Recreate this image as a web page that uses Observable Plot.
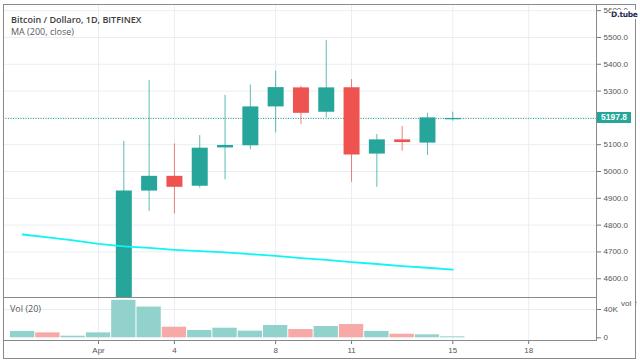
<!DOCTYPE html>
<html>
<head>
<meta charset="utf-8">
<script src="https://cdn.jsdelivr.net/npm/d3@7"></script>
<script src="https://cdn.jsdelivr.net/npm/@observablehq/plot@0.6"></script>
<style>
  html, body { margin: 0; padding: 0; background: #fff; }
  #wrap { position: relative; width: 640px; height: 360px; overflow: hidden; font-family: "Liberation Sans", Arial, sans-serif; }
  #outer { position: absolute; left: 3px; top: 4px; width: 633px; height: 355px; border: 1px solid #8a8a8a; box-sizing: border-box; pointer-events: none; }
  .abs { position: absolute; white-space: nowrap; }
  #title { left: 11px; top: 13px; font-family: "Open Sans", sans-serif; font-weight: 600; font-size: 9px; color: #3c3c3c; }
  #subtitle { left: 11px; top: 25px; font-family: "Open Sans", sans-serif; font-size: 9px; color: #5a5a5a; }
  #voltitle { left: 10px; top: 302px; font-family: "Open Sans", sans-serif; font-size: 9px; color: #5a5a5a; }
  #wm { left: 611px; top: 10px; font-family: "DejaVu Sans", sans-serif; font-weight: bold; font-size: 7.5px; color: #1d2b53; letter-spacing: -0.3px; background: #fff; }
  #tag { font-family: "Liberation Sans", sans-serif; font-weight: bold; font-size: 8.5px; color: #fff; text-align: center; line-height: 11px; height: 11px; width: 34px; }
  svg { position: absolute; left: 0; }
</style>
</head>
<body>
<div id="wrap"></div>
<script>
// ---- data ----
const dates = ["2019-03-29","2019-03-30","2019-03-31","2019-04-01","2019-04-02","2019-04-03","2019-04-04","2019-04-05","2019-04-06","2019-04-07","2019-04-08","2019-04-09","2019-04-10","2019-04-11","2019-04-12","2019-04-13","2019-04-14","2019-04-15"];
const open  = [4025, 4110, 4100, 4105, 4150, 4927, 4982, 4945, 5088, 5096, 5241, 5312, 5221, 5312, 5065, 5118, 5106, 5193];
const high  = [4120, 4125, 4115, 4160, 5112, 5340, 5103, 5134, 5284, 5323, 5374, 5318, 5489, 5343, 5138, 5168, 5217, 5221];
const low   = [4010, 4080, 4085, 4090, 4130, 4851, 4842, 4938, 4969, 5081, 5144, 5175, 5200, 4960, 4941, 5076, 5060, 5188];
const close = [4110, 4100, 4105, 4150, 4927, 4982, 4941, 5087, 5097, 5241, 5313, 5217, 5312, 5062, 5118, 5108, 5200, 5197.8];
const ma200 = [4765, 4754, 4743, 4730, 4721, 4715, 4708, 4703, 4698, 4692, 4685, 4677, 4670, 4662, 4655, 4647, 4641, 4634];
const volume = [9000, 7000, 2300, 7000, 53000, 43500, 15000, 10300, 13600, 9400, 17400, 11700, 16000, 18800, 9000, 5100, 4200, 1400];
const priceTicks = [4600, 4700, 4800, 4900, 5000, 5100, 5200, 5300, 5400, 5500, 5600];
const volTicks = [0, 40000];
const dateTicks = ["2019-04-01","2019-04-04","2019-04-08","2019-04-11","2019-04-15","2019-04-18"];
const lastClose = close[close.length - 1];

const GREEN = "#26a69a", RED = "#ef5350";
const GREEN_V = "#92d2cc", RED_V = "#f7a9a7";
const GRID = "#e9eef3", FRAME = "#8a8a8a", TXT = "#555";

const candles = dates.map((d, i) => ({date: new Date(d), open: open[i], high: high[i], low: low[i], close: close[i], ma: ma200[i], vol: volume[i]}));
const tickDates = dateTicks.map(d => new Date(d));
const up = d => d.close >= d.open;
const DAY = 864e5;
const apr1 = Date.UTC(2019, 3, 1);
const xDomain = [new Date(apr1 - 3.755 * DAY), new Date(apr1 + 19.68 * DAY)];
const fmtDate = d => d.getUTCDate() === 1 ? "Apr" : String(d.getUTCDate());
// the price tag hides the tick label next to the last close
const labelTicks = priceTicks.filter(t => Math.abs(t - lastClose) > 20);

const baseStyle = {background: "transparent", overflow: "hidden", fontFamily: "Liberation Sans, Arial, sans-serif", fontSize: "8px", color: TXT};

const main = Plot.plot({
  width: 640, height: 297,
  marginLeft: 3, marginRight: 44, marginTop: 4, marginBottom: 0,
  style: baseStyle,
  x: {type: "utc", domain: xDomain, axis: null},
  y: {domain: [4530, 5623], axis: null},
  marks: [
    Plot.gridX(tickDates, {stroke: GRID, strokeOpacity: 1}),
    Plot.gridY(priceTicks, {stroke: GRID, strokeOpacity: 1}),
    Plot.axisY(labelTicks, {anchor: "right", tickSize: 4, tickPadding: 3, tickFormat: d => d.toFixed(1), stroke: "#777", fill: TXT}),
    Plot.ruleY([lastClose], {stroke: GREEN, strokeDasharray: "1,1.5"}),
    Plot.ruleX(candles, {filter: up, x: "date", y1: "low", y2: "high", stroke: GREEN, strokeOpacity: 0.75}),
    Plot.ruleX(candles, {filter: d => !up(d), x: "date", y1: "low", y2: "high", stroke: RED, strokeOpacity: 0.75}),
    Plot.ruleX(candles, {filter: up, x: "date", y1: "open", y2: "close", stroke: GREEN, strokeWidth: 16}),
    Plot.ruleX(candles, {filter: d => !up(d), x: "date", y1: "open", y2: "close", stroke: RED, strokeWidth: 16}),
    Plot.lineY(candles, {x: "date", y: "ma", stroke: "#10f4f4", strokeWidth: 1.8}),
    Plot.frame({anchor: "right", stroke: FRAME})
  ]
});
main.style.top = "0px";

const vol = Plot.plot({
  width: 640, height: 63,
  marginLeft: 3, marginRight: 44, marginTop: 0, marginBottom: 20,
  style: baseStyle,
  x: {type: "utc", domain: xDomain, axis: null},
  y: {domain: [-3800, 57000], axis: null},
  marks: [
    Plot.gridX(tickDates, {stroke: GRID, strokeOpacity: 1}),
    Plot.gridY([40000], {stroke: GRID, strokeOpacity: 1}),
    Plot.rect(candles, {filter: up, x1: d => new Date(+d.date - DAY / 2), x2: d => new Date(+d.date + DAY / 2), y1: d => 0, y2: "vol", fill: GREEN_V, insetLeft: 0.5, insetRight: 0.5}),
    Plot.rect(candles, {filter: d => !up(d), x1: d => new Date(+d.date - DAY / 2), x2: d => new Date(+d.date + DAY / 2), y1: d => 0, y2: "vol", fill: RED_V, insetLeft: 0.5, insetRight: 0.5}),
    Plot.axisY(volTicks, {anchor: "right", tickSize: 4, tickPadding: 3, tickFormat: d => d === 0 ? "0" : (d / 1000) + "K", stroke: "#777", fill: TXT}),
    Plot.axisX(tickDates, {anchor: "bottom", tickSize: 4, tickPadding: 3, tickFormat: fmtDate, stroke: "#777", fill: TXT}),
    Plot.frame({anchor: "top", stroke: FRAME}),
    Plot.frame({anchor: "bottom", stroke: FRAME}),
    Plot.frame({anchor: "right", stroke: FRAME})
  ]
});
vol.style.top = "297px";

const wrap = document.getElementById("wrap");
wrap.appendChild(main);
wrap.appendChild(vol);

const outer = document.createElement("div"); outer.id = "outer"; wrap.appendChild(outer);

function addText(id, text) {
  const el = document.createElement("div");
  el.id = id; el.className = "abs"; el.textContent = text;
  wrap.appendChild(el); return el;
}
addText("title", "Bitcoin / Dollaro, 1D, BITFINEX");
addText("subtitle", "MA (200, close)");
addText("voltitle", "Vol (20)");
addText("wm", "D.tube");

const tag = addText("tag", lastClose.toFixed(1));
const py = main.scale("y").apply(lastClose);
tag.style.left = "597px";
tag.style.top = (py - 5.5) + "px";
tag.style.background = GREEN;
</script>
</body>
</html>
